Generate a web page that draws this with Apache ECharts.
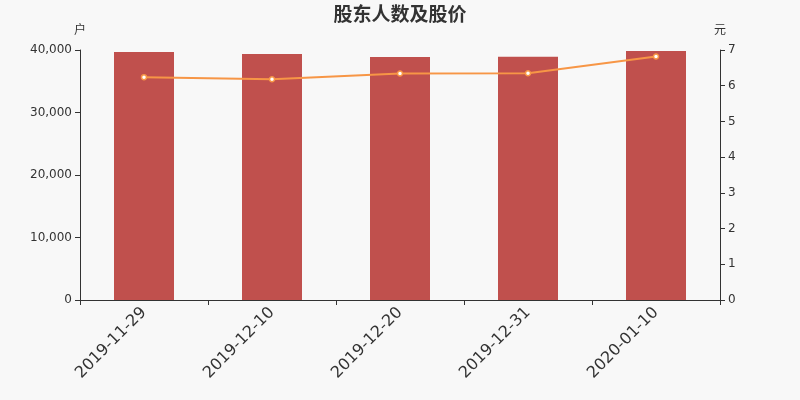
<!DOCTYPE html>
<html><head><meta charset="utf-8">
<script src="https://cdn.jsdelivr.net/npm/echarts@6/dist/echarts.min.js"></script>
<style>html,body{margin:0;padding:0;background:#f8f8f8}#c{width:800px;height:400px}</style>
</head><body><div id="c"></div>
<script>
var categories = ['2019-11-29','2019-12-10','2019-12-20','2019-12-31','2020-01-10'];
var holders = [39680, 39360, 38880, 38930, 39840];
var prices = [6.24, 6.18, 6.34, 6.35, 6.82];
var leftTicks = [0, 10000, 20000, 30000, 40000];
var rightTicks = [0, 1, 2, 3, 4, 5, 6, 7];

var chart = echarts.init(document.getElementById('c'));
var axisCommon = {
  axisLine: {show: true, lineStyle: {color: '#333'}},
  axisTick: {show: true, lineStyle: {color: '#333'}},
  axisLabel: {color: '#333', fontSize: 12, fontFamily: 'DejaVu Sans'},
  splitLine: {show: false},
  nameTextStyle: {color: '#333', fontSize: 12, fontFamily: 'Noto Sans CJK SC'}
};
chart.setOption({
  backgroundColor: '#f8f8f8',
  animation: false,
  title: {text: '股东人数及股价', left: 'center', top: -1,
    textStyle: {color: '#333', fontSize: 19, fontWeight: 'bold', fontFamily: 'Noto Sans CJK SC'}},
  grid: {left: 80, right: 80, top: 50, bottom: 100},
  xAxis: {
    type: 'category', data: categories,
    axisLine: {lineStyle: {color: '#333'}},
    axisTick: {show: true, lineStyle: {color: '#333'}},
    axisLabel: {rotate: 45, color: '#333', fontSize: 16, fontFamily: 'DejaVu Sans', margin: 10}
  },
  yAxis: [
    Object.assign({}, axisCommon, {type: 'value', name: '户', min: leftTicks[0], max: leftTicks[leftTicks.length-1], interval: leftTicks[1]-leftTicks[0], position: 'left',
      axisLabel: Object.assign({}, axisCommon.axisLabel, {formatter: function(v){return v.toLocaleString('en-US');}})}),
    Object.assign({}, axisCommon, {type: 'value', name: '元', min: rightTicks[0], max: rightTicks[rightTicks.length-1], interval: rightTicks[1]-rightTicks[0], position: 'right'})
  ],
  series: [
    {type: 'bar', data: holders, yAxisIndex: 0, barWidth: 60, itemStyle: {color: '#c0504d'}},
    {type: 'line', data: prices, yAxisIndex: 1, symbol: 'circle', symbolSize: 5,
      lineStyle: {color: '#f79646', width: 2},
      itemStyle: {color: '#fff', borderColor: '#f79646', borderWidth: 1.5}}
  ]
});
</script></body></html>
